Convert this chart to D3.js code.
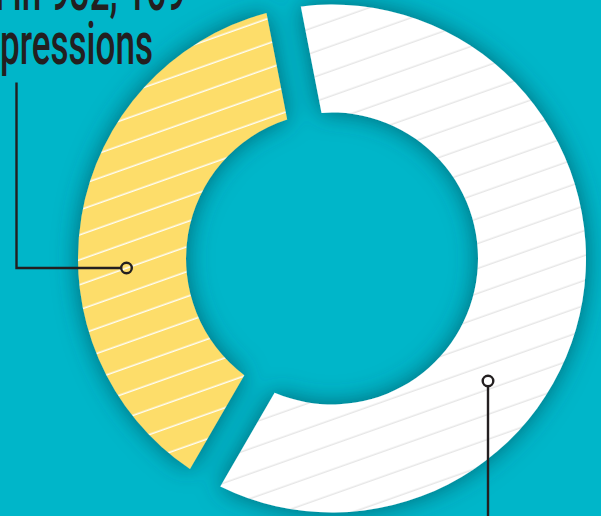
<!DOCTYPE html>
<html>
<head>
<meta charset="utf-8">
<script src="https://cdn.jsdelivr.net/npm/d3@7"></script>
<style>
  html, body { margin: 0; padding: 0; background: #00b5c8; }
  svg { display: block; }
</style>
</head>
<body>
<svg id="chart" width="601" height="516"></svg>
<script>
// ---- data ----
const segments = ["Other", "Impressions"];
const shares = [61.4, 38.6];            // percent of the ring
const headlineLines = ["Resulted in 932, 169", "impressions"];

// ---- styles ----
const fills = ["#ffffff", "#fddd6b"];
const hatchColors = ["#e4e4e4", "#ffffff"];
const ink = "#231f20";

const W = 601, H = 516;
const cx = 332, cy = 258.5, outerR = 254, innerR = 146;
const startRad = -11 * Math.PI / 180;

const svg = d3.select("#chart");
svg.append("rect").attr("width", W).attr("height", H).attr("fill", "#00b6c9");

const defs = svg.append("defs");
const f = defs.append("filter").attr("id", "shadow")
  .attr("x", "-20%").attr("y", "-20%").attr("width", "140%").attr("height", "140%");
f.append("feGaussianBlur").attr("in", "SourceAlpha").attr("stdDeviation", 12).attr("result", "b");
f.append("feFlood").attr("flood-color", "#004550").attr("flood-opacity", 0.7);
f.append("feComposite").attr("in2", "b").attr("operator", "in").attr("result", "s");
const m = f.append("feMerge");
m.append("feMergeNode").attr("in", "s");
m.append("feMergeNode").attr("in", "SourceGraphic");

segments.forEach((s, i) => {
  const p = defs.append("pattern").attr("id", "hatch" + i)
    .attr("patternUnits", "userSpaceOnUse")
    .attr("width", 20).attr("height", 23.5)
    .attr("patternTransform", "rotate(-19.5)");
  p.append("rect").attr("width", 20).attr("height", 23.5).attr("fill", fills[i]);
  p.append("line").attr("x1", 0).attr("x2", 20).attr("y1", 11).attr("y2", 11)
    .attr("stroke", hatchColors[i]).attr("stroke-width", i === 0 ? 1.3 : 1.4);
});

const pie = d3.pie().sort(null).value(d => d)
  .startAngle(startRad).endAngle(startRad + 2 * Math.PI);
const gap = 35;
const arc = d3.arc().innerRadius(innerR).outerRadius(outerR)
  .padRadius(outerR).padAngle(2 * Math.asin(gap / 2 / outerR));

const g = svg.append("g").attr("transform", `translate(${cx},${cy})`)
  .attr("filter", "url(#shadow)");
g.selectAll("path").data(pie(shares)).join("path")
  .attr("d", arc)
  .attr("fill", (d, i) => `url(#hatch${i})`);

// ---- leader lines ----
const lead = svg.append("g").attr("fill", "none").attr("stroke", ink).attr("stroke-width", 2.4);
lead.append("path").attr("d", "M16.5,82.5 V268 H121");
lead.append("circle").attr("cx", 126.5).attr("cy", 268).attr("r", 5.3);
lead.append("path").attr("d", "M488,386.3 V516");
lead.append("circle").attr("cx", 488).attr("cy", 381).attr("r", 5.3);

// ---- headline (cut by the frame) ----
const fontSize = 60;
const t2 = svg.append("text").text(headlineLines[1])
  .attr("font-family", "Roboto, 'Noto Sans', sans-serif").attr("font-weight", 500)
  .attr("font-size", fontSize).attr("fill", ink).attr("text-anchor", "start");
const sub = t2.node().getSubStringLength(2, headlineLines[1].length - 2);
const pre = t2.node().getSubStringLength(0, 2);
const sx = 153 / sub;
t2.attr("transform", `translate(${-pre * sx},64) scale(${sx},1)`);

svg.append("text").text(headlineLines[0])
  .attr("font-family", "Roboto, 'Noto Sans', sans-serif").attr("font-weight", 500)
  .attr("font-size", fontSize).attr("fill", ink).attr("text-anchor", "end")
  .attr("transform", `translate(186,10) scale(${sx},1)`);
</script>
</body>
</html>
